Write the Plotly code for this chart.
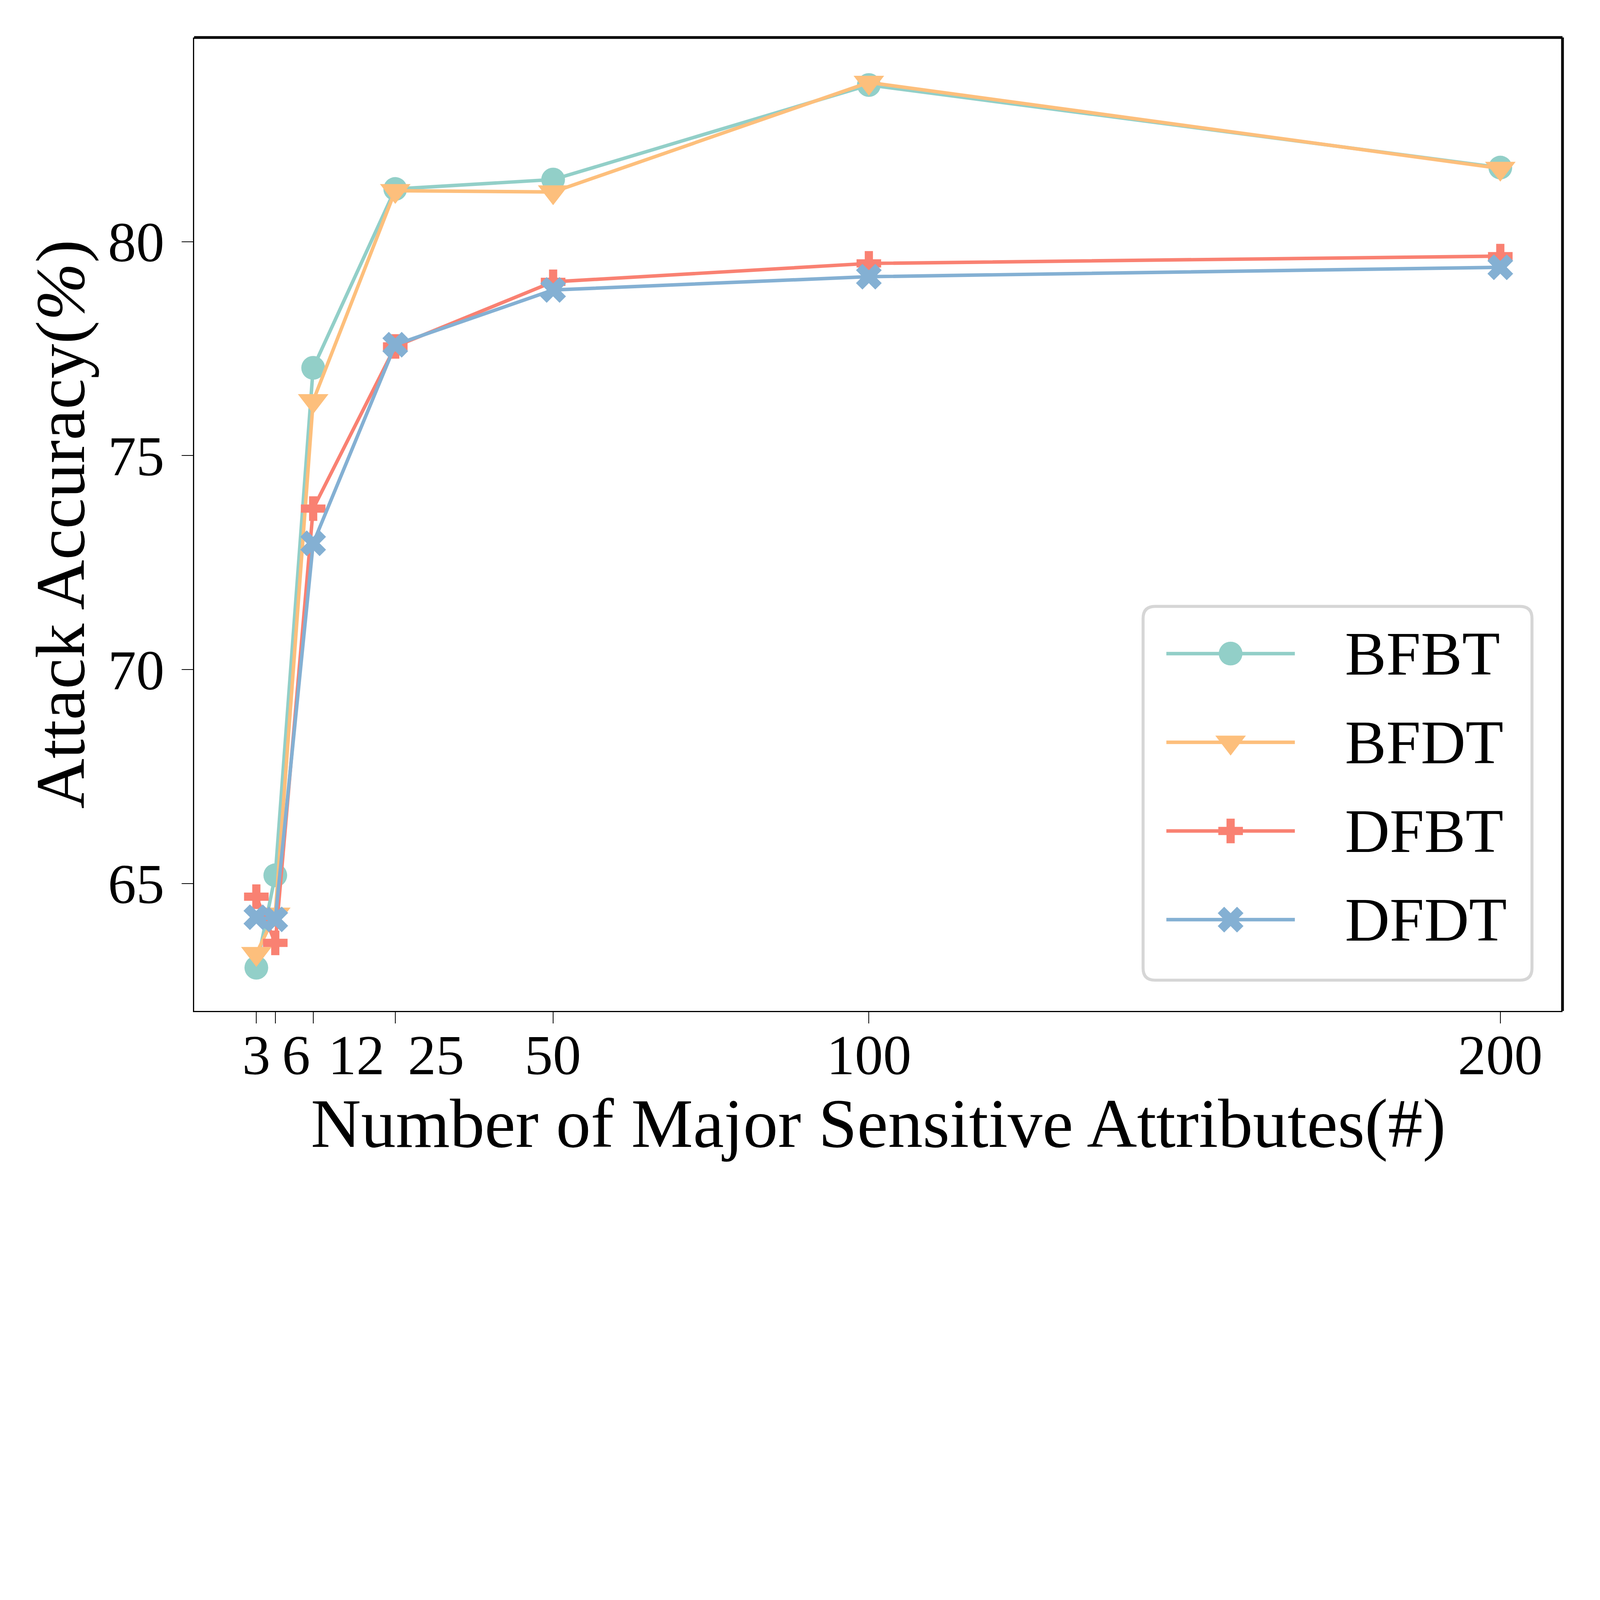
import plotly.graph_objects as go

# ---------------- data ----------------
num_attributes = [3, 6, 12, 25, 50, 100, 200]
tick_labels = ["3", "6", "12", "25", "50", "100", "200"]
bfbt = [63.03, 65.19, 77.05, 81.23, 81.45, 83.66, 81.73]
bfdt = [63.36, 64.28, 76.28, 81.19, 81.16, 83.72, 81.71]
dfbt = [64.69, 63.61, 73.76, 77.55, 79.06, 79.49, 79.66]
dfdt = [64.21, 64.16, 72.95, 77.59, 78.87, 79.18, 79.40]
series_names = ["BFBT", "BFDT", "DFBT", "DFDT"]
y_ticks = [65, 70, 75, 80]

# ---------------- style ----------------
# the browser viewport is 4096 px wide, so the 6400x4800 design is scaled to 4096x3072
S = 4096 / 6400
colors = ["#92cfc8", "#fdbf7c", "#f98172", "#84b0d3"]
symbols = ["circle", "triangle-down", "cross", "x"]
sizes = [95 * S, 106 * S, 82 * S, 91 * S]
FONT = "Liberation Serif"
W, H = 6400 * S, 4800 * S
L, R, T, B = 776 * S, 150 * S, 150 * S, 757 * S
LINE_W = 14 * S
TICK_FONT = 226 * S
TITLE_FONT = 278 * S
LEGEND_FONT = 248 * S
TICK_LEN = 46 * S
# horizontal shift (px) of x tick labels, as in the reference
label_shift = [0, 83 * S, 173 * S, 163 * S, 0, 0, 0]

all_series = [bfbt, bfdt, dfbt, dfdt]

fig = go.Figure()
for name, vals, c, s, sz in zip(series_names, all_series, colors, symbols, sizes):
    fig.add_trace(go.Scatter(
        x=num_attributes, y=vals, name=name, mode="lines+markers",
        line=dict(color=c, width=LINE_W),
        marker=dict(symbol=s, size=sz, color=c, line=dict(width=0)),
        showlegend=False, cliponaxis=False,
    ))

# ---------------- hand-built legend (plotly caps legend symbol sizes) ----------------
pw = W - L - R
ph = H - T - B
lg_x0, lg_x1 = 0.6935, 0.9777
lg_y0, lg_y1 = 0.0316, 0.4156
rx, ry = 48 * S / pw, 48 * S / ph
path = (f"M{lg_x0+rx},{lg_y0} L{lg_x1-rx},{lg_y0} Q{lg_x1},{lg_y0} {lg_x1},{lg_y0+ry} "
        f"L{lg_x1},{lg_y1-ry} Q{lg_x1},{lg_y1} {lg_x1-rx},{lg_y1} "
        f"L{lg_x0+rx},{lg_y1} Q{lg_x0},{lg_y1} {lg_x0},{lg_y1-ry} "
        f"L{lg_x0},{lg_y0+ry} Q{lg_x0},{lg_y0} {lg_x0+rx},{lg_y0} Z")
fig.add_shape(type="path", path=path, xref="paper", yref="paper",
              line=dict(color="#d6d6d6", width=12 * S), fillcolor="white", layer="below")

h_x0, h_x1 = 0.7105, 0.8044
h_mid = (h_x0 + h_x1) / 2
text_x = 0.8403
row0 = 0.3671
row_step = 0.0911
annotations = []
for i, (name, c, s, sz) in enumerate(zip(series_names, colors, symbols, sizes)):
    yy = row0 - i * row_step
    fig.add_trace(go.Scatter(
        x=[h_x0, h_mid, h_x1], y=[yy, yy, yy], mode="lines+markers",
        line=dict(color=c, width=LINE_W),
        marker=dict(symbol=s, size=sz, color=c, line=dict(width=0), opacity=[0, 1, 0]),
        xaxis="x2", yaxis="y2", showlegend=False, hoverinfo="skip", cliponaxis=False,
    ))
    annotations.append(dict(
        x=text_x, y=yy, xref="paper", yref="paper", text=name, showarrow=False,
        xanchor="left", yanchor="middle", font=dict(family=FONT, size=LEGEND_FONT, color="black"),
    ))

# x tick labels (shifted like the reference)
for v, lab, dx in zip(num_attributes, tick_labels, label_shift):
    annotations.append(dict(
        x=v, y=0, xref="x", yref="paper", text=lab, showarrow=False,
        xanchor="center", yanchor="top", xshift=dx, yshift=-31,
        font=dict(family=FONT, size=TICK_FONT, color="black"),
    ))

# thick top / right frame lines
fig.add_shape(type="line", xref="paper", yref="paper", x0=0, x1=1, y0=1, y1=1,
              line=dict(color="black", width=11 * S))
fig.add_shape(type="line", xref="paper", yref="paper", x0=1, x1=1, y0=0, y1=1,
              line=dict(color="black", width=11 * S))

fig.update_layout(
    width=W, height=H, autosize=False,
    margin=dict(l=L, r=R, t=T, b=B, pad=0),
    paper_bgcolor="white", plot_bgcolor="white",
    font=dict(family=FONT, size=TICK_FONT, color="black"),
    showlegend=False,
    annotations=annotations,
    xaxis=dict(
        range=[-6.85, 209.85], tickmode="array", tickvals=num_attributes,
        ticktext=tick_labels, showticklabels=False,
        ticks="outside", ticklen=TICK_LEN, tickwidth=2, tickcolor="black",
        showline=True, linecolor="black", linewidth=2.6, mirror=False,
        showgrid=False, zeroline=False,
        title=dict(text="Number of Major Sensitive Attributes(#)",
                   font=dict(family=FONT, size=TITLE_FONT, color="black"), standoff=193),
        automargin=False,
    ),
    yaxis=dict(
        range=[62.02, 84.77], tickmode="array", tickvals=y_ticks,
        ticks="outside", ticklen=TICK_LEN, tickwidth=2, tickcolor="black",
        tickfont=dict(family=FONT, size=TICK_FONT, color="black"),
        ticklabelstandoff=15,
        showline=True, linecolor="black", linewidth=2.6, mirror=False,
        showgrid=False, zeroline=False,
        title=dict(text="Attack Accuracy(<i>%</i>)",
                   font=dict(family=FONT, size=TITLE_FONT, color="black"), standoff=0),
        automargin=False,
    ),
    xaxis2=dict(overlaying="x", range=[0, 1], visible=False, fixedrange=True),
    yaxis2=dict(overlaying="y", range=[0, 1], visible=False, fixedrange=True),
)

fig.write_html("out.html", config={"displayModeBar": False},
               post_script="document.body.style.margin='0';")
